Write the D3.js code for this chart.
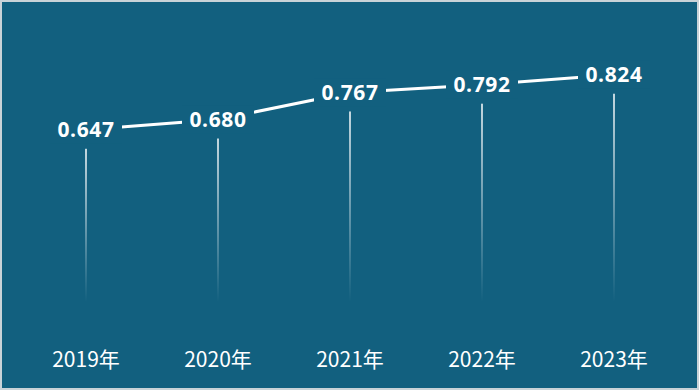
<!DOCTYPE html>
<html>
<head>
<meta charset="utf-8">
<script src="https://cdn.jsdelivr.net/npm/d3@7"></script>
<style>
  html, body { margin: 0; padding: 0; background: #fff; }
  svg { display: block; }
</style>
</head>
<body>
<div id="chart"></div>
<script>
const years = ['2019年', '2020年', '2021年', '2022年', '2023年']
const values = [0.647, 0.680, 0.767, 0.792, 0.824]

const width = 700
const height = 391
const bg = '#12607f'

const svg = d3.select('#chart').append('svg')
  .attr('width', width)
  .attr('height', height)

svg.append('rect')
  .attr('x', 1).attr('y', 1)
  .attr('width', width - 3).attr('height', height - 3)
  .attr('fill', bg)
  .attr('stroke', '#c9d3d8')
  .attr('stroke-width', 2)

const x = d3.scalePoint().domain(years).range([86, 614])
const y = d3.scaleLinear().domain([0, 1]).range([331, 20])

const defs = svg.append('defs')
const grad = defs.append('linearGradient')
  .attr('id', 'fade')
  .attr('x1', 0).attr('y1', 0).attr('x2', 0).attr('y2', 1)
grad.append('stop').attr('offset', '0%').attr('stop-color', '#fff').attr('stop-opacity', 0.75)
grad.append('stop').attr('offset', '60%').attr('stop-color', '#fff').attr('stop-opacity', 0.3)
grad.append('stop').attr('offset', '100%').attr('stop-color', '#fff').attr('stop-opacity', 0)

const data = years.map((d, i) => ({ year: d, value: values[i] }))

// drop lines
svg.append('g').selectAll('rect')
  .data(data)
  .enter()
  .append('rect')
  .attr('x', d => x(d.year) - 1)
  .attr('y', d => y(d.value) + 19)
  .attr('width', 2)
  .attr('height', d => 302 - (y(d.value) + 19))
  .attr('fill', 'url(#fade)')

// line
svg.append('path')
  .datum(data)
  .attr('fill', 'none')
  .attr('stroke', '#fff')
  .attr('stroke-width', 3)
  .attr('d', d3.line().x(d => x(d.year)).y(d => y(d.value)))

// value labels with background knockouts
const labels = svg.append('g').selectAll('g')
  .data(data)
  .enter()
  .append('g')
  .attr('transform', d => 'translate(' + x(d.year) + ',' + y(d.value) + ')')

labels.append('rect')
  .attr('x', -36).attr('y', -14)
  .attr('width', 72).attr('height', 28)
  .attr('fill', bg)

labels.append('text')
  .attr('text-anchor', 'middle')
  .attr('dy', '0.36em')
  .attr('fill', '#fff')
  .attr('font-family', '"Open Sans", "Noto Sans", sans-serif')
  .attr('font-weight', 'bold')
  .attr('font-size', 21)
  .attr('letter-spacing', 0.6)
  .text(d => d3.format('.3f')(d.value))

// x axis labels
svg.append('g').selectAll('text')
  .data(years)
  .enter()
  .append('text')
  .attr('x', d => x(d))
  .attr('y', 367)
  .attr('text-anchor', 'middle')
  .attr('fill', '#fff')
  .attr('font-family', '"Noto Sans CJK SC", "Noto Sans", sans-serif')
  .attr('font-size', 21)
  .text(d => d)
</script>
</body>
</html>
